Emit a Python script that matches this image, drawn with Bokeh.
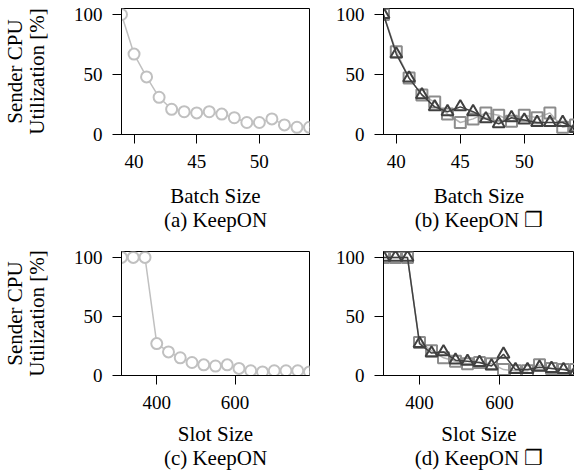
from bokeh.plotting import figure
from bokeh.layouts import column, row
from bokeh.embed import file_html
from bokeh.resources import INLINE
from bokeh.models import FixedTicker, Range1d

# ---- data ----
batch_size = [39, 40, 41, 42, 43, 44, 45, 46, 47, 48, 49, 50, 51, 52, 53, 54]
a_keepon = [100, 67, 48, 31, 21, 19, 18, 19, 17, 14, 10, 10, 13, 8, 6, 6]
b_squares = [100, 69, 47, 33, 27, 17, 10, 13, 18, 16, 11, 16, 14, 18, 6, 8]
b_triangles = [100, 67, 47, 33, 23, 19, 23, 19, 13, 9, 14, 12, 10, 10, 10, 5]

slot_size = [310, 340, 370, 400, 430, 460, 490, 520, 550, 580, 610, 640, 670, 700, 730, 760, 790]
c_keepon = [100, 100, 100, 27, 20, 15, 11, 9, 8, 9, 6, 4, 3, 4, 4, 4, 3]
d_squares = [100, 100, 100, 28, 21, 15, 12, 10, 11, 10, 5, 4, 4, 9, 6, 5, 5]
d_triangles = [100, 100, 100, 27, 19, 20, 13, 12, 11, 8, 18, 5, 5, 7, 6, 5, 3]

batch_ticks = [40, 45, 50]
slot_ticks = [400, 600]
y_ticks = [0, 50, 100]

y_label = "Sender CPU\nUtilization [%]"
captions = ["Batch Size\n(a) KeepON", "Batch Size\n(b) KeepON \u2750",
            "Slot Size\n(c) KeepON", "Slot Size\n(d) KeepON \u2750"]

FONT = "Liberation Serif"
LIGHT = "#c0c0c0"
MID = "#8c8c8c"
MIDLINE = "#b4b4b4"
DARK = "#404040"


def make_fig(width, height, xr, xticks, xlabel, left, top, bottom, right, ylab, xstand):
    p = figure(width=width, height=height, output_backend="svg", toolbar_location=None,
               x_range=Range1d(*xr), y_range=Range1d(0, 105),
               min_border_left=left, min_border_top=top, min_border_bottom=bottom,
               min_border_right=right)
    p.xgrid.visible = False
    p.ygrid.visible = False
    p.outline_line_color = "black"
    p.outline_line_alpha = 1
    p.outline_line_width = 1
    p.background_fill_color = "white"
    p.border_fill_color = "white"
    for ax in (p.xaxis[0], p.yaxis[0]):
        ax.major_tick_in = 0
        ax.major_tick_out = 9
        ax.minor_tick_in = 0
        ax.minor_tick_out = 0
        ax.axis_line_color = "black"
        ax.major_tick_line_color = "black"
        ax.major_label_text_font = FONT
        ax.major_label_text_font_size = "19px"
        ax.major_label_text_color = "black"
        ax.axis_label_text_font = FONT
        ax.axis_label_text_font_size = "21px"
        ax.axis_label_text_font_style = "normal"
        ax.axis_label_text_color = "black"
    p.yaxis.major_label_standoff = 10
    p.xaxis.major_label_standoff = 11
    p.xaxis.axis_label_text_line_height = 1.0
    p.xaxis.ticker = FixedTicker(ticks=xticks)
    p.yaxis.ticker = FixedTicker(ticks=y_ticks)
    p.xaxis.axis_label = xlabel
    p.xaxis.axis_label_standoff = xstand
    if ylab:
        p.yaxis.axis_label = y_label
        p.yaxis.axis_label_standoff = 22
        p.yaxis.axis_label_text_line_height = 0.9
    return p


fa = make_fig(318, 243, (39, 54), batch_ticks, captions[0], 117, 8, 109, 9, True, 13)
fb = make_fig(256, 243, (39, 39 + 191 / 12.8), batch_ticks, captions[1], 65, 8, 109, 0, False, 13)
fc = make_fig(318, 229, (310, 790), slot_ticks, captions[2], 117, 8, 95, 9, True, 10)
fd = make_fig(256, 229, (310, 310 + 191 / 0.4), slot_ticks, captions[3], 65, 8, 95, 0, False, 10)

# (a)
fa.line(batch_size, a_keepon, line_color=LIGHT, line_width=1.5)
fa.scatter(batch_size, a_keepon, marker="circle", size=11, fill_color="white",
           line_color=LIGHT, line_width=2)
# (b)
fb.line(batch_size, b_squares, line_color=MIDLINE, line_width=1.5)
fb.scatter(batch_size, b_squares, marker="square", size=11, fill_color=None,
           line_color=MID, line_width=2)
fb.line(batch_size, b_triangles, line_color=DARK, line_width=1.5)
fb.scatter(batch_size, b_triangles, marker="triangle", size=12, fill_color=None,
           line_color=DARK, line_width=2)
# (c)
fc.line(slot_size, c_keepon, line_color=LIGHT, line_width=1.5)
fc.scatter(slot_size, c_keepon, marker="circle", size=11, fill_color="white",
           line_color=LIGHT, line_width=2)
# (d)
fd.line(slot_size, d_squares, line_color=MIDLINE, line_width=1.5)
fd.scatter(slot_size, d_squares, marker="square", size=11, fill_color=None,
           line_color=MID, line_width=2)
fd.line(slot_size, d_triangles, line_color=DARK, line_width=1.5)
fd.scatter(slot_size, d_triangles, marker="triangle", size=12, fill_color=None,
           line_color=DARK, line_width=2)

layout = column(row(fa, fb), row(fc, fd))
open("out.html", "w").write(file_html(layout, INLINE))
